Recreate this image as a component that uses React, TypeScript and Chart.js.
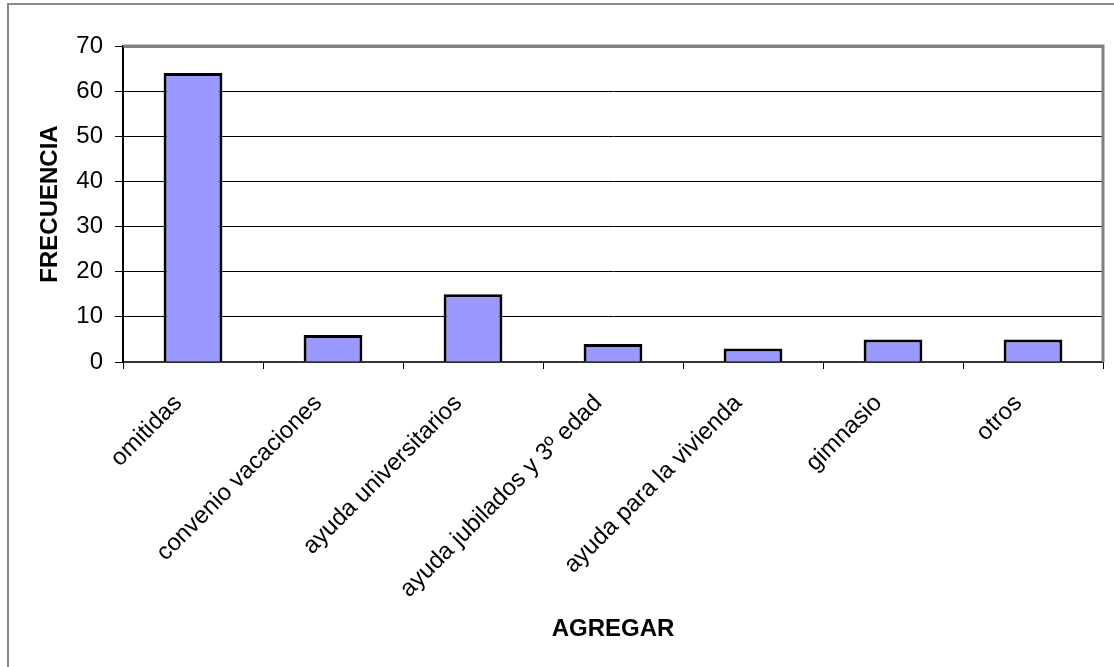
import React, { useEffect, useRef } from "react";
import { Chart, registerables } from "chart.js";

Chart.register(...registerables);

const categories = [
  "omitidas",
  "convenio vacaciones",
  "ayuda universitarios",
  "ayuda jubilados y 3º edad",
  "ayuda para la vivienda",
  "gimnasio",
  "otros",
];
const frecuencia = [64, 6, 15, 4, 3, 5, 5];
const yMin = 0;
const yMax = 70;
const yStep = 10;

const FONT = "'Liberation Sans', Arial, Helvetica, sans-serif";

// Gray frame along the top and right sides of the plot area
const plotFrame = {
  id: "plotFrame",
  afterDatasetsDraw(chart: Chart) {
    const { ctx, chartArea } = chart;
    ctx.save();
    ctx.strokeStyle = "#808080";
    ctx.lineWidth = 3;
    ctx.beginPath();
    ctx.moveTo(chartArea.left, chartArea.top);
    ctx.lineTo(chartArea.right, chartArea.top);
    ctx.lineTo(chartArea.right, chartArea.bottom);
    ctx.stroke();
    ctx.restore();
  },
};

// Category labels slanted at 45°, each ending just left of its tick
const slantedLabels = {
  id: "slantedLabels",
  afterDraw(chart: Chart) {
    const scale: any = chart.scales.x;
    const { ctx } = chart;
    const labels = chart.data.labels as string[];
    ctx.save();
    ctx.fillStyle = "#000";
    ctx.font = `24px ${FONT}`;
    ctx.textAlign = "right";
    ctx.textBaseline = "alphabetic";
    scale.ticks.forEach((_t: any, i: number) => {
      const x = scale.getPixelForTick(i);
      ctx.save();
      ctx.translate(x - 10, scale.top + 42);
      ctx.rotate(-Math.PI / 4);
      ctx.fillText(labels[i], 0, 0);
      ctx.restore();
    });
    ctx.restore();
  },
};

export default function App() {
  const canvasRef = useRef<HTMLCanvasElement | null>(null);

  useEffect(() => {
    if (!canvasRef.current) return;
    const chart = new Chart(canvasRef.current, {
      type: "bar",
      data: {
        labels: categories,
        datasets: [
          {
            label: "FRECUENCIA",
            data: frecuencia,
            backgroundColor: "#9999FF",
            borderColor: "#000000",
            borderWidth: 3,
            barPercentage: 0.42,
            categoryPercentage: 1,
          },
        ],
      },
      plugins: [plotFrame, slantedLabels],
      options: {
        animation: false,
        responsive: false,
        maintainAspectRatio: false,
        layout: { padding: { top: 46, right: 11, left: 0, bottom: 0 } },
        plugins: {
          legend: { display: false },
          tooltip: { enabled: false },
        },
        scales: {
          x: {
            grid: {
              offset: true,
              drawOnChartArea: false,
              color: "#000",
              tickLength: 7,
              lineWidth: 1,
            },
            border: { display: true, color: "#333", width: 2 },
            ticks: { display: false, autoSkip: false },
            title: {
              display: true,
              text: "AGREGAR",
              color: "#000",
              font: { family: FONT, size: 24, weight: "bold" },
              padding: { top: 0, bottom: 23 },
            },
            afterFit(scale: any) {
              scale.height = 305;
            },
          },
          y: {
            min: yMin,
            max: yMax,
            ticks: {
              stepSize: yStep,
              color: "#000",
              font: { family: FONT, size: 24 },
              padding: 12,
            },
            grid: {
              color: (c: any) => (c.tick && c.tick.value === yMax ? "#808080" : "#000"),
              lineWidth: (c: any) => (c.tick && c.tick.value === yMax ? 3 : 1),
              tickColor: "#000",
              tickWidth: 1,
              tickLength: 8,
            },
            border: { display: true, color: "#000", width: 2 },
            title: {
              display: true,
              text: "FRECUENCIA",
              color: "#000",
              font: { family: FONT, size: 24, weight: "bold" },
              padding: { top: 36, bottom: 0 },
            },
            afterFit(scale: any) {
              scale.width = 123;
            },
          },
        },
      },
    });
    return () => chart.destroy();
  }, []);

  return (
    <div
      style={{
        position: "absolute",
        left: 0,
        top: 0,
        width: 1114,
        height: 667,
        background: "#fff",
        overflow: "hidden",
      }}
    >
      <div
        style={{
          position: "absolute",
          left: 7,
          top: 3,
          width: 1200,
          height: 800,
          borderTop: "2px solid #888",
          borderLeft: "2px solid #888",
        }}
      />
      <canvas
        ref={canvasRef}
        width={1114}
        height={667}
        style={{ position: "absolute", left: 0, top: 0 }}
      />
    </div>
  );
}
